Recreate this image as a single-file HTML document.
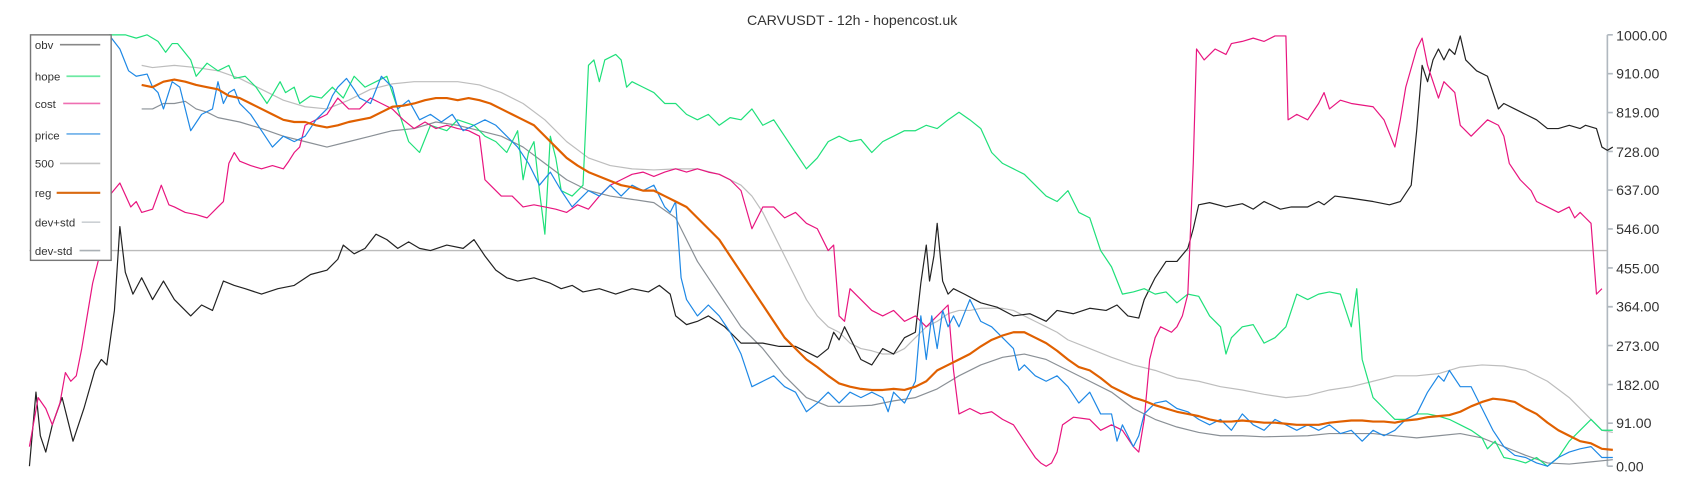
<!DOCTYPE html>
<html><head><meta charset="utf-8"><style>
html,body{margin:0;padding:0;background:#fff;}
svg{display:block;font-family:"Liberation Sans",sans-serif;}
</style></head><body>
<svg width="1700" height="500" viewBox="0 0 1560 459" preserveAspectRatio="none" xmlns="http://www.w3.org/2000/svg">
<rect width="1560" height="459" fill="#fff"/>
<text x="782" y="23" text-anchor="middle" font-size="13" fill="#333">CARVUSDT - 12h - hopencost.uk</text>
<g stroke="#b0b8bf" stroke-width="1.5" fill="none">
<line x1="1475" y1="32" x2="1475" y2="428"/>
<path d="M1475 32h5M1475 67.6h5M1475 103.3h5M1475 139h5M1475 174.5h5M1475 210.2h5M1475 246h5M1475 281.6h5M1475 317.2h5M1475 353h5M1475 388.5h5M1475 428h5"/>
</g>
<g font-size="13" fill="#333">
<text x="1483" y="37">1000.00</text><text x="1483" y="72">910.00</text><text x="1483" y="108">819.00</text>
<text x="1483" y="144">728.00</text><text x="1483" y="179">637.00</text><text x="1483" y="215">546.00</text>
<text x="1483" y="251">455.00</text><text x="1483" y="286">364.00</text><text x="1483" y="322">273.00</text>
<text x="1483" y="358">182.00</text><text x="1483" y="393">91.00</text><text x="1483" y="433">0.00</text>
</g>
<line x1="27" y1="230" x2="1475" y2="230" stroke="#bbb" stroke-width="1.3"/>
<g fill="none" stroke-width="1.1" stroke-linejoin="round">
<polyline stroke="#bdbdbd" points="130,60 140,62 160,60 180,62 200,65 220,72 240,82 260,92 280,98 300,100 320,92 340,82 360,77 380,75 400,75 420,75 440,78 460,85 480,95 500,110 520,130 540,145 560,152 580,155 600,156 620,155 640,155 660,160 680,170 690,180 700,195 710,215 720,235 730,255 740,275 750,290 760,300 770,305 780,315 790,320 800,322 810,325 820,325 830,320 840,310 850,300 860,295 870,288 880,285 890,285 900,283 920,283 930,285 940,290 950,295 960,300 970,305 980,312 1000,320 1020,328 1040,335 1060,340 1080,347 1100,350 1120,355 1140,358 1160,362 1180,365 1200,363 1220,358 1240,355 1260,350 1280,345 1300,345 1320,343 1340,337 1360,335 1380,336 1400,340 1420,350 1440,365 1460,385 1470,395 1480,397"/>
<polyline stroke="#8a9096" points="130,100 140,100 150,95 160,95 170,93 180,100 190,103 200,108 220,112 240,118 260,125 280,130 300,135 320,130 340,125 360,120 380,118 400,112 420,115 440,120 460,125 480,135 500,150 520,165 540,175 560,180 580,183 600,186 620,200 630,220 640,240 650,255 660,270 670,285 680,300 700,320 720,345 740,365 760,373 780,373 800,372 820,368 840,365 860,357 880,345 900,335 920,328 940,325 960,330 980,340 1000,350 1020,360 1040,375 1060,385 1080,392 1100,397 1120,400 1140,400 1160,401 1200,400 1220,398 1240,398 1260,398 1280,400 1300,402 1320,400 1340,398 1360,402 1380,410 1400,418 1420,425 1440,426 1460,424 1480,422"/>
<polyline stroke="#222" points="27,428 33,360 37,400 42,415 48,390 57,365 67,405 77,375 87,340 93,330 98,335 105,285 110,208 115,250 122,270 130,255 140,275 150,258 160,275 175,290 185,280 195,285 205,258 215,262 225,265 240,270 255,265 270,262 285,252 300,248 310,238 315,225 325,233 335,228 345,215 355,220 365,228 375,222 385,228 395,230 410,225 425,228 435,220 445,235 455,248 465,255 475,258 490,255 505,260 515,265 525,262 535,268 550,265 565,270 580,265 595,268 605,262 615,270 620,290 630,298 640,295 650,290 665,300 680,315 700,315 715,318 730,318 750,328 760,320 765,305 770,312 775,300 780,310 790,330 800,335 810,320 820,325 830,310 840,305 845,260 850,225 853,258 857,235 860,205 865,258 870,270 875,265 885,270 900,278 915,282 930,290 945,288 960,295 970,285 985,288 1000,283 1015,285 1025,280 1035,290 1045,292 1050,275 1060,255 1070,240 1080,240 1090,228 1095,210 1100,188 1110,186 1125,190 1140,187 1150,192 1160,185 1175,192 1185,190 1200,190 1210,185 1215,188 1225,180 1240,182 1260,185 1275,188 1285,185 1295,170 1300,120 1305,60 1310,75 1315,55 1320,45 1325,55 1330,45 1335,50 1340,33 1345,55 1355,65 1365,70 1375,100 1380,95 1390,100 1400,105 1410,110 1420,118 1430,118 1440,115 1450,118 1455,115 1465,118 1470,135 1475,138 1480,135"/>
<polyline stroke="#1fe07a" points="100,32 115,32 125,35 135,32 145,38 152,48 158,40 163,40 167,45 175,55 180,70 190,58 200,65 210,60 215,72 225,70 235,80 245,95 250,87 257,75 262,85 270,80 275,95 285,88 295,90 305,80 315,90 325,70 335,80 345,75 355,70 365,100 375,130 385,140 395,115 410,120 420,110 435,115 445,125 455,130 465,140 475,120 480,165 485,140 490,130 495,175 500,215 505,125 510,145 515,175 525,180 535,170 540,60 545,55 550,75 555,55 565,50 570,55 575,80 580,75 590,80 600,85 610,95 620,95 630,105 640,110 650,105 660,115 670,108 680,110 690,100 700,115 710,110 720,125 730,140 740,155 750,145 760,130 770,125 780,130 790,128 800,140 810,130 820,125 830,120 840,120 850,115 860,118 870,110 880,103 890,110 900,118 910,140 920,150 930,155 940,160 950,170 960,180 970,185 980,175 990,195 1000,200 1010,230 1020,245 1030,270 1040,268 1050,265 1060,270 1070,268 1080,278 1090,270 1100,272 1110,290 1120,300 1125,325 1130,310 1140,300 1150,298 1160,315 1170,310 1180,300 1190,270 1200,275 1210,270 1220,268 1230,270 1240,300 1245,265 1250,330 1260,365 1270,375 1280,385 1290,385 1300,380 1310,380 1320,382 1330,385 1340,390 1350,395 1360,402 1365,412 1372,405 1380,420 1390,422 1400,425 1410,420 1420,428 1430,420 1440,405 1450,395 1460,385 1470,395 1480,395"/>
<polyline stroke="#e8157f" points="27,410 35,365 42,375 48,390 55,370 60,342 65,350 70,345 75,320 80,290 85,260 95,220 100,180 110,168 120,190 125,185 130,195 140,192 148,170 155,188 160,190 170,195 180,197 190,200 200,190 205,185 210,150 215,140 220,148 230,152 240,155 250,152 260,155 265,148 270,140 275,135 280,115 290,110 300,105 310,90 320,100 330,100 340,90 350,95 360,100 370,110 380,118 390,112 400,118 410,115 420,118 430,120 440,125 445,165 450,170 460,180 470,180 480,190 490,188 500,190 510,192 520,195 530,188 540,192 550,180 560,170 570,165 580,160 590,158 600,162 610,158 620,155 630,158 640,155 650,158 660,160 670,165 680,175 690,210 700,190 710,190 720,200 730,195 740,205 750,210 760,230 765,225 770,290 775,295 780,265 790,275 800,285 810,290 820,285 830,295 840,290 850,300 860,290 870,280 875,340 880,380 890,375 900,380 910,378 920,385 930,390 940,405 950,420 955,425 960,428 965,425 970,415 975,390 985,383 1000,385 1010,395 1020,390 1030,395 1040,410 1045,415 1050,385 1055,330 1060,310 1065,300 1075,305 1080,300 1085,290 1090,270 1095,150 1098,45 1105,55 1115,45 1125,50 1130,40 1140,38 1150,35 1160,38 1170,33 1180,33 1182,110 1190,105 1200,110 1210,95 1215,85 1220,100 1230,92 1240,95 1260,98 1270,110 1280,135 1285,110 1290,80 1300,45 1305,35 1310,60 1320,90 1325,75 1335,85 1340,115 1350,125 1355,120 1365,110 1375,115 1380,125 1385,150 1395,165 1405,175 1410,185 1420,190 1430,195 1440,190 1445,200 1450,195 1455,200 1460,205 1465,270 1470,265"/>
<polyline stroke="#1e88e5" points="100,32 110,45 118,65 125,70 135,68 140,80 145,85 150,100 158,75 165,80 175,120 185,105 195,100 200,75 205,95 210,85 215,82 220,95 230,105 240,120 250,135 260,125 270,130 280,125 290,110 300,100 305,88 310,80 318,72 325,82 330,90 340,95 350,70 360,80 365,100 375,92 385,110 395,105 405,112 415,105 425,120 435,115 445,110 455,115 465,125 475,135 485,150 495,170 505,158 515,175 525,190 535,180 540,175 550,180 560,170 570,180 580,170 590,175 600,170 605,180 610,190 615,195 620,185 625,255 630,275 640,290 650,280 660,290 670,305 680,325 690,355 700,350 710,345 720,355 730,360 740,378 750,370 760,360 770,370 780,360 790,365 800,360 810,365 815,378 820,360 830,370 840,350 845,290 850,330 855,290 860,320 865,285 870,300 875,290 880,300 890,275 900,295 910,300 920,310 930,320 935,340 940,335 950,345 960,350 970,345 980,355 990,370 1000,360 1010,380 1020,380 1025,405 1030,390 1040,410 1045,400 1050,380 1060,370 1070,368 1080,375 1090,378 1100,385 1110,390 1120,385 1130,395 1140,380 1150,390 1160,395 1170,385 1180,390 1190,395 1200,390 1210,395 1220,390 1230,398 1240,395 1250,405 1260,395 1270,400 1280,395 1290,385 1300,380 1310,360 1320,345 1325,350 1330,340 1340,355 1350,355 1360,375 1370,395 1380,410 1390,418 1400,420 1410,425 1420,428 1430,420 1440,415 1450,412 1460,410 1470,420 1480,420"/>
<polyline stroke="#e06000" stroke-width="2" points="130,78 140,80 150,75 160,73 170,75 180,78 190,80 200,82 210,88 220,90 230,95 240,100 250,105 260,110 270,112 280,112 290,115 300,117 310,115 320,112 330,110 340,108 350,103 360,98 370,97 380,95 390,92 400,90 410,90 420,92 430,90 440,92 450,95 460,100 470,105 480,110 490,115 500,125 510,135 520,145 530,152 540,158 550,162 560,166 570,170 580,172 590,175 600,175 610,180 620,185 630,190 640,200 650,210 660,220 670,235 680,250 690,265 700,280 710,295 720,310 730,320 740,330 750,337 760,345 770,352 780,355 790,357 800,358 810,358 820,357 830,358 840,355 850,350 860,340 870,335 880,330 890,325 900,318 910,312 920,308 930,305 940,305 950,310 960,315 970,322 980,330 990,337 1000,340 1010,347 1020,355 1030,360 1040,365 1050,368 1060,372 1070,375 1080,378 1090,380 1100,382 1110,385 1120,387 1130,387 1140,386 1150,387 1160,388 1170,388 1180,389 1190,390 1200,390 1210,390 1220,388 1230,387 1240,386 1250,386 1260,387 1270,387 1280,388 1290,386 1300,385 1310,383 1320,382 1330,381 1340,378 1350,373 1360,369 1370,366 1380,367 1390,369 1400,375 1410,380 1420,388 1430,395 1440,400 1450,405 1460,407 1470,412 1480,413"/>
</g>
<rect x="28" y="32" width="74" height="207" fill="#fff" stroke="#777" stroke-width="1.3"/>
<g font-size="10.5" fill="#333">
<text x="32" y="45">obv</text><text x="32" y="74">hope</text><text x="32" y="99">cost</text>
<text x="32" y="128">price</text><text x="32" y="154">500</text><text x="32" y="181">reg</text>
<text x="32" y="208">dev+std</text><text x="32" y="234">dev-std</text>
</g>
<g stroke-width="1.5">
<line x1="55" y1="41" x2="92" y2="41" stroke="#888"/>
<line x1="61" y1="70" x2="92" y2="70" stroke="#6ee9a3"/>
<line x1="58" y1="95" x2="92" y2="95" stroke="#ef6fb2"/>
<line x1="61" y1="123" x2="92" y2="123" stroke="#6aaee9"/>
<line x1="55" y1="150" x2="92" y2="150" stroke="#c4c4c4"/>
<line x1="52" y1="177" x2="92" y2="177" stroke="#d96a10" stroke-width="2"/>
<line x1="75" y1="204" x2="92" y2="204" stroke="#ccd0d4"/>
<line x1="73" y1="230" x2="92" y2="230" stroke="#aab0b5"/>
</g>
</svg>
</body></html>
